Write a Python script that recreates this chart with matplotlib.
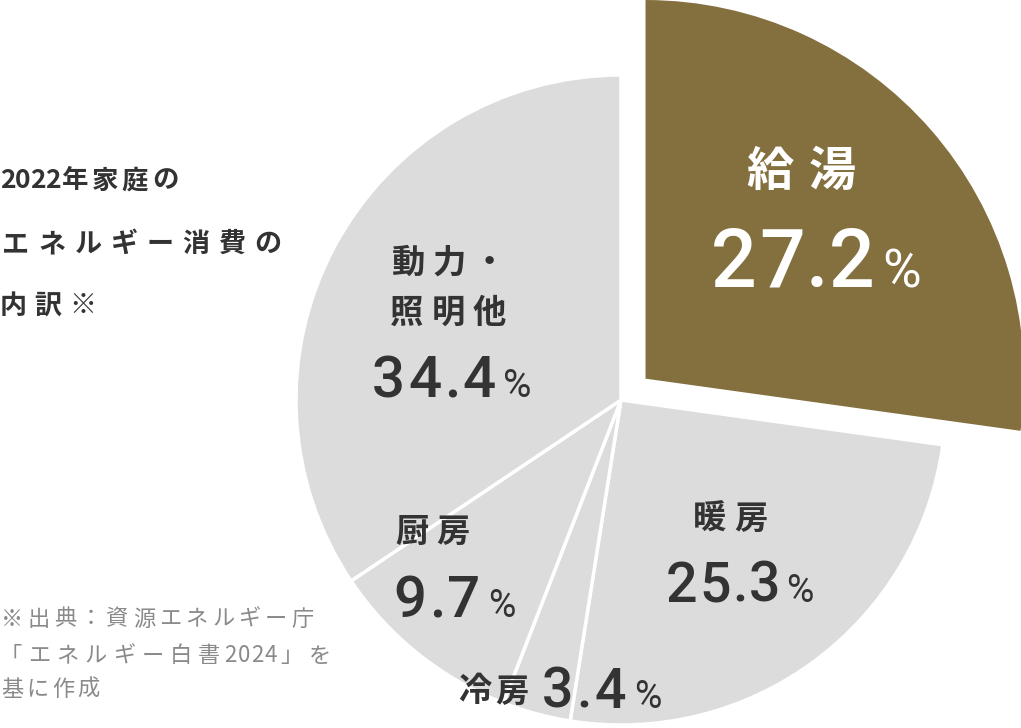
import matplotlib
matplotlib.use("Agg")
import matplotlib.pyplot as plt

W, H = 1021, 728

# data: share of household energy use (2022), clockwise from 12 o'clock
categories = ["給湯", "暖房", "冷房", "厨房", "動力・照明他"]
shares = [27.2, 25.3, 3.4, 9.7, 34.4]
colors = ["#84703f", "#dcdcdc", "#dcdcdc", "#dcdcdc", "#dcdcdc"]
explode = [0.1, 0, 0, 0, 0]

title_lines = ["2022年家庭の", "エネルギー消費の", "内訳※"]
note_lines = ["※出典：資源エネルギー庁", "「エネルギー白書2024」を", "基に作成"]

JP = "Noto Sans CJK JP"
NUM = ["Roboto", JP]
DARK = "#333333"

fig = plt.figure(figsize=(W / 100, H / 100), dpi=100)
ax = fig.add_axes([0, 0, 1, 1])

cx, cy, r = 621, H - 400, 325
# pie() takes explode in data units, so scale by the radius
wedges, _ = ax.pie(shares, explode=[e * r for e in explode], colors=colors,
                   startangle=90, counterclock=False, center=(cx, cy), radius=r,
                   wedgeprops=dict(edgecolor="white", linewidth=2.5))
# the highlighted slice is drawn larger
wedges[0].set_radius(r * 1.165)
wedges[0].set_linewidth(0)

ax.set_xlim(0, W)
ax.set_ylim(0, H)
ax.axis("off")


def char_w(ch, digit=0.45):
    if ch.isdigit():
        return digit
    if ch == ".":
        return 0.46
    if ch == "%":
        return 1.05
    return 1.0


def spaced(x, y, s, size, unit, color=DARK, weight="bold", family=JP,
           va="center", digit=0.45, pct_size=None, pct_weight="normal"):
    # x: centre of the first character, y: image-space y
    pos, prev = x, None
    for ch in s:
        w = char_w(ch, digit)
        if prev is not None:
            pos += (prev + w) / 2 * unit
        fs, fw = size, weight
        if ch == "%" and pct_size:
            fs, fw = pct_size, pct_weight
        ax.text(pos, H - y, ch, fontsize=fs, fontweight=fw, color=color,
                family=family, ha="center", va=va)
        prev = w


def pct(v):
    return f"{v:.1f}%"


# left title
spaced(7.5, 181, title_lines[0], 19, 30, digit=0.5)
spaced(16, 244, title_lines[1], 19.5, 36)
spaced(13, 306, title_lines[2], 19.5, 35)

# source note
spaced(12, 619, note_lines[0], 16, 26.4, color="#8a8a8a", weight="normal", digit=0.48)
spaced(11, 656, note_lines[1], 16, 28.3, color="#8a8a8a", weight="normal", digit=0.48)
spaced(12, 689, note_lines[2], 16, 25.5, color="#8a8a8a", weight="normal")

# slice labels
spaced(770, 172, categories[0], 34, 62, color="white")
spaced(734, 287, pct(shares[0]), 58, 48, color="white", family=NUM,
       weight="medium", va="baseline", digit=1.0, pct_size=38)

spaced(710, 519, categories[1], 24, 41)
spaced(681, 602, pct(shares[1]), 40, 34, family=NUM, weight="medium",
       va="baseline", digit=1.0, pct_size=27)

spaced(475, 692, categories[2], 24, 37)
spaced(558, 708, pct(shares[2]), 40, 36, family=NUM, weight="medium",
       va="baseline", digit=1.0, pct_size=27)

spaced(412, 532, categories[3], 24, 41)
spaced(410, 617, pct(shares[3]), 42, 37, family=NUM, weight="medium",
       va="baseline", digit=1.0, pct_size=27)

spaced(409, 263, categories[4][:3], 24, 40)
spaced(407, 313, categories[4][3:], 24, 41)
spaced(388, 397, pct(shares[4]), 42, 37, family=NUM, weight="medium",
       va="baseline", digit=1.0, pct_size=28)

fig.savefig("out.png", dpi=100)
